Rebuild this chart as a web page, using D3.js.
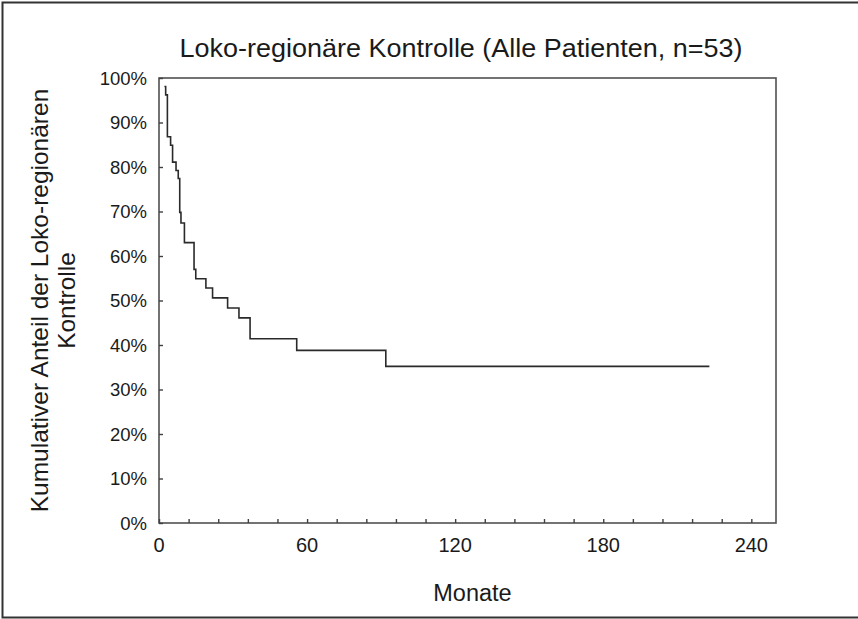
<!DOCTYPE html>
<html>
<head>
<meta charset="utf-8">
<script src="https://cdn.jsdelivr.net/npm/d3@7"></script>
<style>
  html, body { margin: 0; padding: 0; background: #fff; }
  svg text { font-family: "Liberation Sans", Arial, sans-serif; fill: #1a1a1a; }
</style>
</head>
<body>
<svg id="chart" width="858" height="619"></svg>
<script>
// Kaplan-Meier step curve: time of each drop (months) and cumulative proportion after it (%)
const eventMonths = [2.2, 2.7, 3.4, 4.7, 5.5, 6.9, 7.8, 8.4, 8.9, 10.3, 14.2, 14.9, 19.0, 21.7, 27.8, 32.4, 36.9, 55.8, 91.9];
const survivalPct = [98.1, 96.2, 86.8, 84.9, 81.1, 79.2, 77.4, 69.8, 67.4, 63.0, 57.0, 54.9, 52.8, 50.6, 48.3, 46.1, 41.4, 38.8, 35.2];
const lastFollowUp = 223;

const xTickValues = [0, 60, 120, 180, 240];
const xMinorTicks = d3.range(0, 241, 12);
const yTickValues = [0, 10, 20, 30, 40, 50, 60, 70, 80, 90, 100];

const titleText = "Loko-regionäre Kontrolle (Alle Patienten, n=53)";
const yTitleLines = ["Kumulativer Anteil der Loko-regionären", "Kontrolle"];
const xTitleText = "Monate";

const svg = d3.select("#chart");
const W = 858, H = 619;
const plot = { left: 159, right: 776, top: 78, bottom: 523 };

const x = d3.scaleLinear().domain([0, 250]).range([plot.left, plot.right]);
const y = d3.scaleLinear().domain([0, 100]).range([plot.bottom, plot.top]);

// outer frame (left, top, bottom edges)
svg.append("path")
  .attr("d", `M${W},2.5 H2.5 V617.5 H${W}`)
  .attr("fill", "none").attr("stroke", "#333").attr("stroke-width", 2);

// title
svg.append("text")
  .attr("transform", `translate(461,57) scale(1.08,1)`)
  .attr("text-anchor", "middle")
  .attr("font-size", 25)
  .text(titleText);

// plot box
svg.append("rect")
  .attr("x", plot.left).attr("y", plot.top)
  .attr("width", plot.right - plot.left).attr("height", plot.bottom - plot.top)
  .attr("fill", "none").attr("stroke", "#505050").attr("stroke-width", 1.6);

// y axis: inward ticks, labels on the left
const yAxis = d3.axisRight(y).tickValues(yTickValues).tickSize(4).tickFormat("");
const gy = svg.append("g").attr("transform", `translate(${plot.left},0)`).call(yAxis);
gy.select(".domain").remove();
gy.selectAll("line").attr("stroke", "#404040").attr("stroke-width", 1.4);

svg.append("g").selectAll("text").data(yTickValues).join("text")
  .attr("x", 147).attr("y", d => y(d) + 6.5)
  .attr("text-anchor", "end")
  .attr("font-size", 18.5)
  .text(d => d + "%");

// x axis: inward ticks every 12 months, labels every 60
const xAxis = d3.axisTop(x).tickValues(xMinorTicks).tickSize(4).tickFormat("");
const gx = svg.append("g").attr("transform", `translate(0,${plot.bottom})`).call(xAxis);
gx.select(".domain").remove();
gx.selectAll("line").attr("stroke", "#404040").attr("stroke-width", 1.4);

svg.append("g").selectAll("text").data(xTickValues).join("text")
  .attr("x", d => x(d)).attr("y", 552)
  .attr("text-anchor", "middle")
  .attr("font-size", 20)
  .text(d => d);

// axis titles
svg.append("text")
  .attr("x", x(127)).attr("y", 601)
  .attr("text-anchor", "middle")
  .attr("font-size", 23.5)
  .text(xTitleText);

const yTitle = svg.append("text")
  .attr("transform", `translate(48,${(plot.top + plot.bottom) / 2}) rotate(-90)`)
  .attr("text-anchor", "middle")
  .attr("font-size", 24.5);
yTitle.append("tspan").attr("x", 0).attr("dy", 0).text(yTitleLines[0]);
yTitle.append("tspan").attr("x", 0).attr("dy", 27).text(yTitleLines[1]);

// survival curve
const pts = eventMonths.map((t, i) => [t, survivalPct[i]]);
pts.push([lastFollowUp, survivalPct[survivalPct.length - 1]]);
const line = d3.line().x(d => x(d[0])).y(d => y(d[1])).curve(d3.curveStepAfter);
svg.append("path")
  .attr("d", line(pts))
  .attr("fill", "none").attr("stroke", "#2a2a2a").attr("stroke-width", 1.6);
</script>
</body>
</html>
